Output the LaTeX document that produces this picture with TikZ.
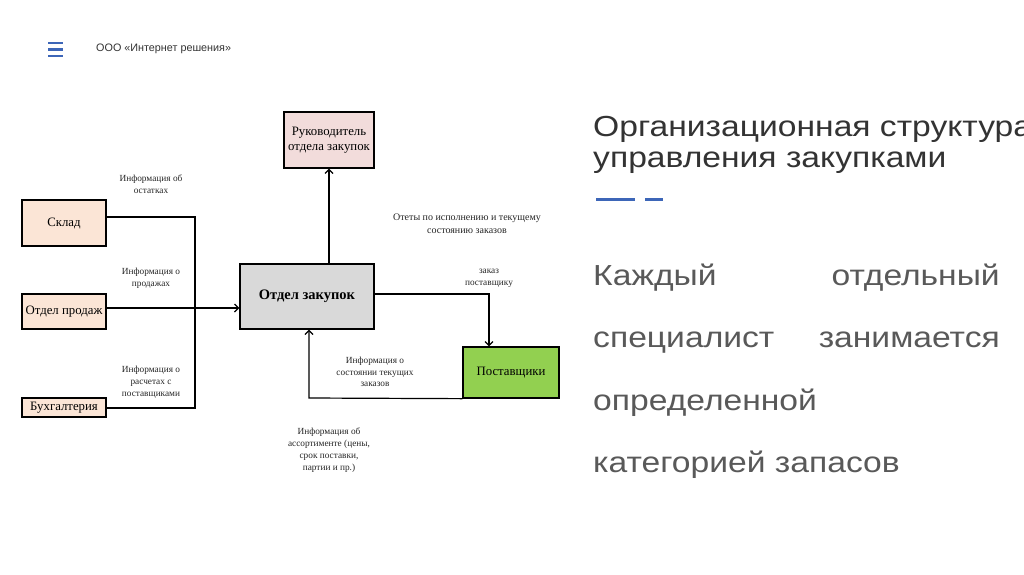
\documentclass[tikz,border=0pt]{standalone}
\usepackage{fontspec}
\setmainfont{Liberation Serif}
\newfontfamily\sansf{Liberation Sans}
\newfontfamily\widesans[FakeStretch=1.16]{Liberation Sans}
\usetikzlibrary{arrows.meta}
\definecolor{peach}{HTML}{FBE5D6}
\definecolor{pinkish}{HTML}{F2DCDB}
\definecolor{grayfill}{HTML}{D9D9D9}
\definecolor{greenfill}{HTML}{92D050}
\definecolor{accent}{HTML}{3D66B8}
\definecolor{titlecol}{HTML}{333333}
\definecolor{bodycol}{HTML}{595959}
\begin{document}
\begin{tikzpicture}[x=1pt,y=-1pt,
 box/.style={draw=black, line width=1.3pt, inner sep=0pt, align=center, font=\fontsize{12.8}{15}\selectfont},
 lbl/.style={align=center, font=\fontsize{9.3}{11.8}\selectfont, inner sep=0pt, text=black!85},
 conn/.style={line width=1.2pt},
 arr/.style={conn, -{Straight Barb[length=4pt,width=8pt]}},
 title/.style={anchor=base west, inner sep=0pt, font=\widesans\fontsize{29}{31}\selectfont, text=titlecol},
 bodyw/.style={anchor=base west, inner sep=0pt, font=\widesans\fontsize{29}{31}\selectfont, text=bodycol},
 bodye/.style={anchor=base east, inner sep=0pt, font=\widesans\fontsize{29}{31}\selectfont, text=bodycol}
]
\useasboundingbox[fill=white] (0,0) rectangle (1024,574);

% header
\draw[accent, line width=2.6pt] (48,43) -- (63,43) (48,49.5) -- (63,49.5) (48,56) -- (63,56);
\node[anchor=west, inner sep=0pt, font=\sansf\fontsize{10.8}{12}\selectfont, text=titlecol] (company) at (96,49) {ООО «Интернет решения»};

% right side text
\node[title] (t1) at (593,136) {Организационная структура};
\node[title] (t2) at (593,167) {управления закупками};
\draw[accent, line width=3pt] (596,199) -- (635,199) (645,199) -- (663,199);

\node[bodyw] (b1a) at (593,285) {Каждый};
\node[bodye] (b1b) at (1000,285) {отдельный};
\node[bodyw] (b2a) at (593,347.5) {специалист};
\node[bodye] (b2b) at (1000,347.5) {занимается};
\node[bodyw] (b3) at (593,410) {определенной};
\node[bodyw] (b4) at (593,472) {категорией запасов};

% diagram boxes
\node[box, fill=peach, minimum width=84pt, minimum height=46pt] (sklad) at (64,223) {Склад};
\node[box, fill=peach, minimum width=84pt, minimum height=35pt] (prod) at (64,311.5) {Отдел продаж};
\node[box, fill=peach, minimum width=84pt, minimum height=19pt] (buh) at (64,407.5) {Бухгалтерия};
\node[box, fill=grayfill, minimum width=134pt, minimum height=65pt, font=\bfseries\fontsize{14.5}{16}\selectfont] (zak) at (307,296.5) {Отдел закупок};
\node[box, fill=pinkish, minimum width=90pt, minimum height=56pt] (ruk) at (329,140) {Руководитель\\отдела закупок};
\node[box, fill=greenfill, minimum width=96pt, minimum height=51pt] (post) at (511,372.5) {Поставщики};

% connectors
\coordinate (j1) at (195,217);
\coordinate (j3) at (195,408);
\draw[conn] (sklad.east |- j1) -- (j1) -- (j3) -- (buh.east |- j3);
\draw[arr] ([yshift=3.5pt]prod.east) -- ([yshift=-11.5pt]zak.west);
\draw[arr] (ruk.south |- zak.north) -- (ruk.south);
\coordinate (c1) at (489,294);
\draw[arr] ([yshift=2.5pt]zak.east) -- (c1) -- (c1 |- post.north);
\coordinate (c2) at (309,398);
\draw[arr] (post.south west) -- (c2) -- (c2 |- zak.south);

% labels
\node[lbl] (l1) at (151,184) {Информация об\\остатках};
\node[lbl] (l2) at (151,278) {Информация о\\продажах};
\node[lbl] (l3) at (151,382) {Информация о\\расчетах с\\поставщиками};
\node[lbl, font=\fontsize{10}{12.5}\selectfont] (l4) at (467,223.5) {Отеты по исполнению и текущему\\состоянию заказов};
\node[lbl] (l5) at (489,278) {заказ\\поставщику};
\node[lbl] (l6) at (375,372) {Информация о\\состоянии текущих\\заказов};
\node[lbl] (l7) at (329,450) {Информация об\\ассортименте (цены,\\срок поставки,\\партии и пр.)};
\end{tikzpicture}
\end{document}
